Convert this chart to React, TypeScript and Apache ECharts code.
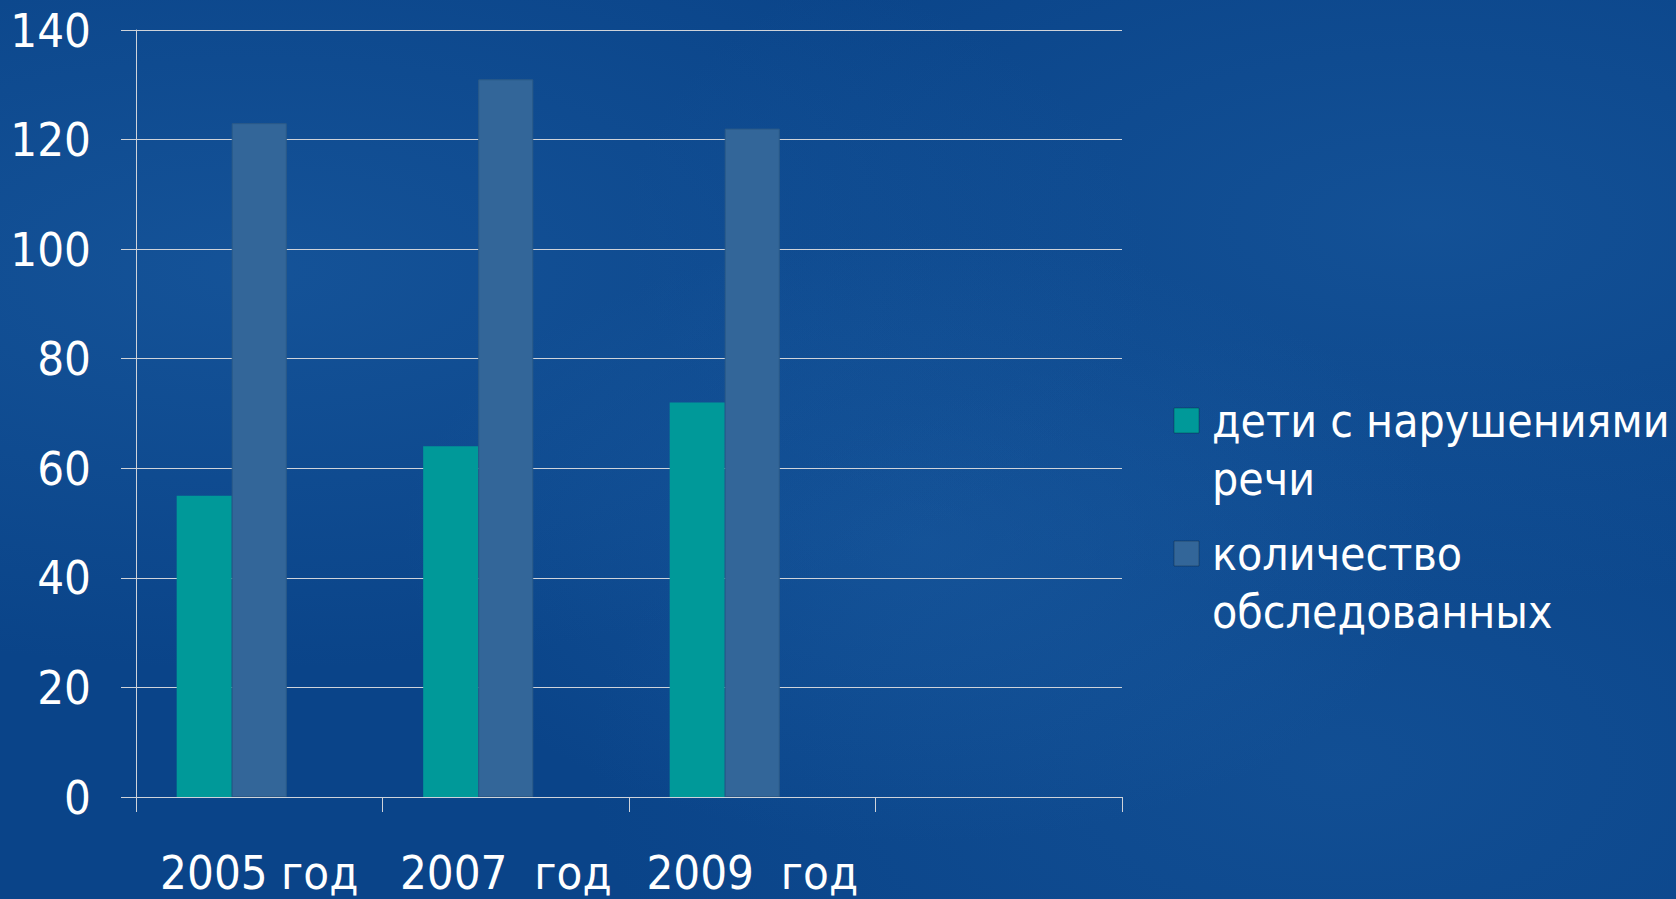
import React, { useEffect, useRef } from "react";
import * as echarts from "echarts";

const categories = ["2005 год", "2007\u00a0 год", "2009\u00a0 год", ""];
const speechDisorders = [55, 64, 72, null];
const examined = [123, 131, 122, null];
const emptySeries = [null, null, null, null];
const seriesNames = ["дети с нарушениями речи", "количество обследованных"];
const legendLines = [
  ["дети с нарушениями", "речи"],
  ["количество", "обследованных"],
];
const yTicks = { min: 0, max: 140, interval: 20 };

const FONT = "'DejaVu Sans Condensed', 'DejaVu Sans', sans-serif";
const TEAL = "#009999";
const STEEL = "#336699";
const GRID = "#cfd3da";

export default function App() {
  const ref = useRef<HTMLDivElement>(null);
  useEffect(() => {
    if (!ref.current) return;
    const chart = echarts.init(ref.current, null, { renderer: "svg" });
    const legendGraphic: any[] = [];
    const colors = [TEAL, STEEL];
    const tops = [408, 541];
    legendLines.forEach((lines, i) => {
      legendGraphic.push({
        type: "rect",
        shape: { x: 1174, y: tops[i], width: 25, height: 25 },
        style: { fill: colors[i], stroke: "rgba(0,0,0,0.25)", lineWidth: 1 },
      });
      lines.forEach((line, j) => {
        legendGraphic.push({
          type: "text",
          x: 1212,
          y: tops[i] + 13 + j * 58,
          style: {
            text: line,
            fill: "#ffffff",
            font: `46px ${FONT}`,
            textVerticalAlign: "middle",
            verticalAlign: "middle",
          },
        });
      });
    });
    chart.setOption({
      animation: false,
      backgroundColor: "transparent",
      grid: { left: 136, right: 554, top: 30, bottom: 102, containLabel: false },
      legend: { show: false, data: seriesNames },
      xAxis: {
        type: "category",
        data: categories,
        boundaryGap: true,
        axisLine: { show: true, lineStyle: { color: GRID, width: 1 } },
        axisTick: { show: true, length: 15, lineStyle: { color: GRID, width: 1 } },
        axisLabel: { color: "#ffffff", fontSize: 47, fontFamily: FONT, margin: 52, interval: 0 },
        splitLine: { show: false },
      },
      yAxis: {
        type: "value",
        min: yTicks.min,
        max: yTicks.max,
        interval: yTicks.interval,
        axisLine: { show: true, lineStyle: { color: GRID, width: 1 } },
        axisTick: { show: true, length: 15, lineStyle: { color: GRID, width: 1 } },
        axisLabel: { color: "#ffffff", fontSize: 47, fontFamily: FONT, margin: 45 },
        splitLine: { show: true, lineStyle: { color: GRID, width: 1 } },
      },
      series: [
        {
          name: seriesNames[0],
          type: "bar",
          data: speechDisorders,
          barGap: "0%",
          barCategoryGap: "33%",
          itemStyle: { color: TEAL },
        },
        {
          name: seriesNames[1],
          type: "bar",
          data: examined,
          barGap: "0%",
          barCategoryGap: "33%",
          itemStyle: { color: STEEL, borderColor: "#2b5a88", borderWidth: 1 },
        },
        {
          name: "",
          type: "bar",
          data: emptySeries,
          barGap: "0%",
          barCategoryGap: "33%",
          itemStyle: { color: "transparent" },
        },
      ],
      graphic: legendGraphic,
    });
    return () => chart.dispose();
  }, []);

  return (
    <div
      style={{
        position: "fixed",
        left: 0,
        top: 0,
        width: 1676,
        height: 899,
        background:
          "radial-gradient(ellipse at 15% 30%, rgba(40,110,180,0.35) 0%, rgba(40,110,180,0) 45%), " +
          "radial-gradient(ellipse at 55% 60%, rgba(40,110,180,0.3) 0%, rgba(40,110,180,0) 40%), " +
          "radial-gradient(ellipse at 85% 25%, rgba(40,110,180,0.3) 0%, rgba(40,110,180,0) 40%), " +
          "radial-gradient(ellipse at 80% 85%, rgba(40,110,180,0.25) 0%, rgba(40,110,180,0) 40%), " +
          "#0a4489",
      }}
    >
      <div ref={ref} style={{ width: 1676, height: 899 }} />
    </div>
  );
}
